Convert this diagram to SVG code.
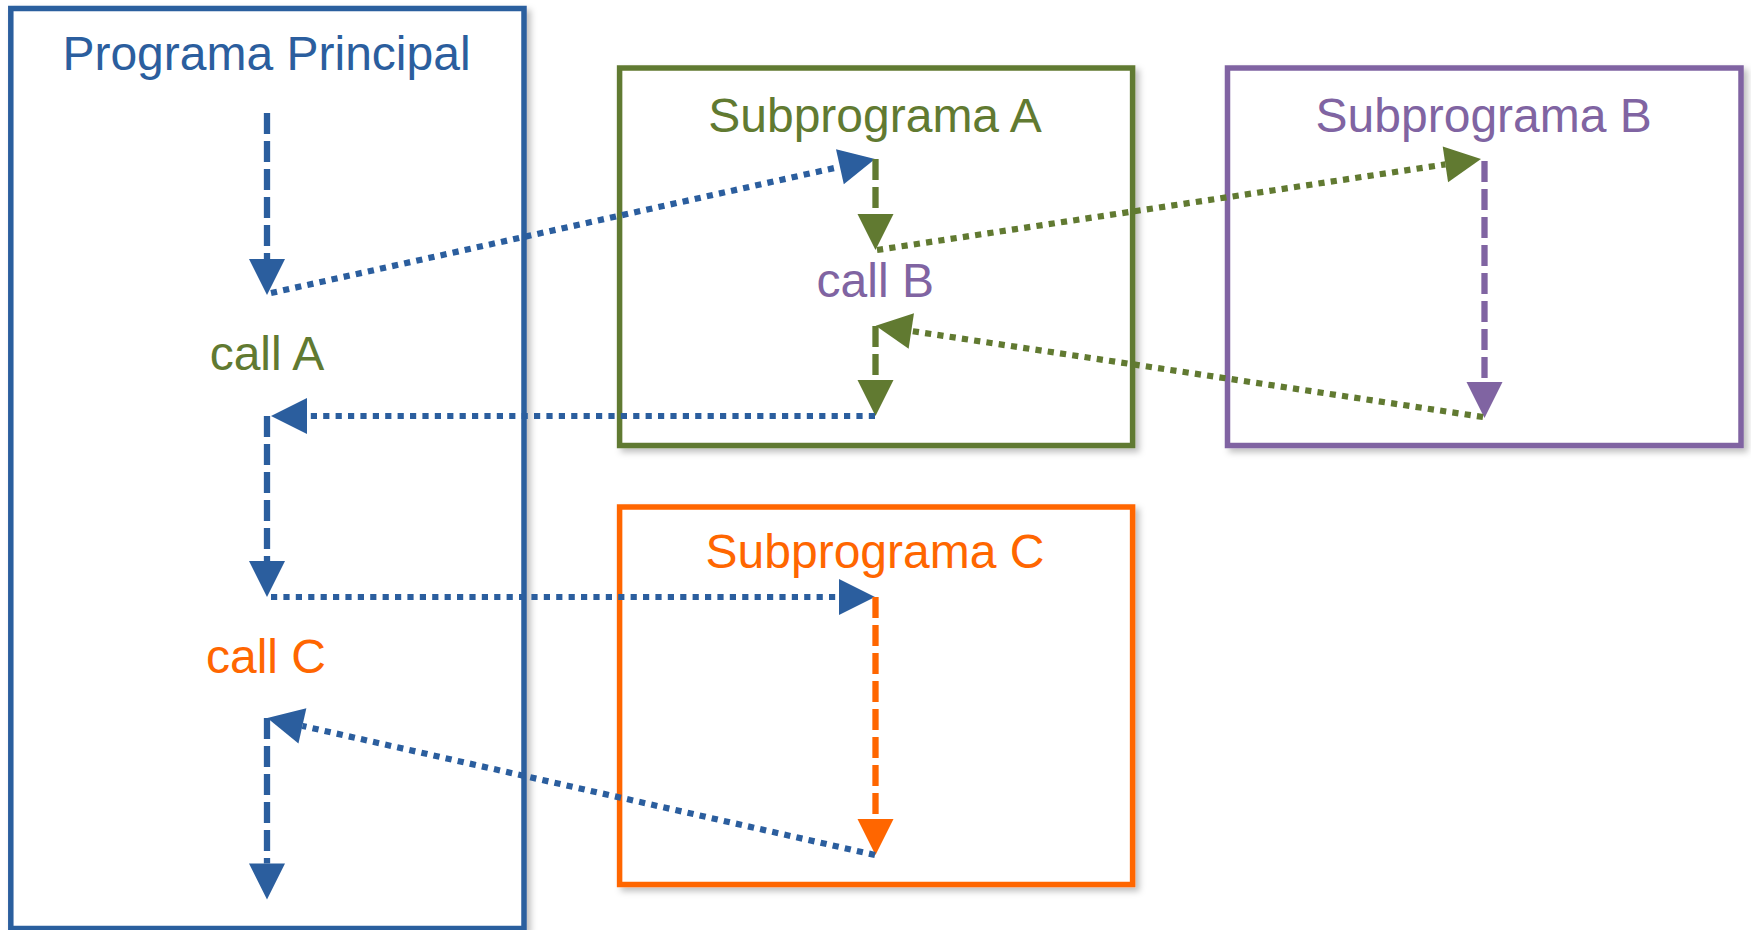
<svg xmlns="http://www.w3.org/2000/svg" width="1751" height="930" viewBox="0 0 1751 930">
<defs>
<style>
.box{fill:#ffffff;stroke-width:5.5;filter:url(#sh)}
.t{font-family:"Liberation Sans",Arial,sans-serif;font-size:48px;text-anchor:middle}
.dash{fill:none;stroke-width:6.3;stroke-dasharray:21 7}
.dot{fill:none;stroke-width:6.2;stroke-dasharray:6.2 6.2}
.blue{stroke:#2B5E9E}
.green{stroke:#617A31}
.purple{stroke:#8064A2}
.orange{stroke:#FF6600}
</style>
<filter id="sh" x="-5%" y="-5%" width="115%" height="115%">
<feDropShadow dx="4" dy="4" stdDeviation="3" flood-color="#000" flood-opacity="0.25"/>
</filter>
<marker id="ab" markerUnits="userSpaceOnUse" viewBox="0 -18 36 36" markerWidth="36" markerHeight="36" refX="0" refY="0" orient="auto" overflow="visible"><path d="M0,-18 L36,0 L0,18 z" fill="#2B5E9E"/></marker>
<marker id="ag" markerUnits="userSpaceOnUse" viewBox="0 -18 36 36" markerWidth="36" markerHeight="36" refX="0" refY="0" orient="auto" overflow="visible"><path d="M0,-18 L36,0 L0,18 z" fill="#617A31"/></marker>
<marker id="ap" markerUnits="userSpaceOnUse" viewBox="0 -18 36 36" markerWidth="36" markerHeight="36" refX="0" refY="0" orient="auto" overflow="visible"><path d="M0,-18 L36,0 L0,18 z" fill="#8064A2"/></marker>
<marker id="ao" markerUnits="userSpaceOnUse" viewBox="0 -18 36 36" markerWidth="36" markerHeight="36" refX="0" refY="0" orient="auto" overflow="visible"><path d="M0,-18 L36,0 L0,18 z" fill="#FF6600"/></marker>
</defs>
<rect width="1751" height="930" fill="#ffffff"/>
<g id="main">
<rect class="box blue" x="10.8" y="8.5" width="513.2" height="920"/>
<text class="t" x="266.5" y="70" fill="#2B5E9E">Programa Principal</text>
<text class="t" x="267" y="370" fill="#617A31">call A</text>
<text class="t" x="266" y="673" fill="#FF6600">call C</text>
</g>
<g id="subA">
<rect class="box green" x="619.6" y="68" width="513" height="377.5"/>
<text class="t" x="875" y="131.5" fill="#617A31">Subprograma A</text>
<text class="t" x="875.3" y="296.7" fill="#8064A2">call B</text>
</g>
<g id="subB">
<rect class="box purple" x="1227.5" y="68" width="513.5" height="377.5"/>
<text class="t" x="1483.7" y="131.5" fill="#8064A2">Subprograma B</text>
</g>
<g id="subC">
<rect class="box orange" x="619.6" y="507" width="513" height="377.5"/>
<text class="t" x="875" y="568.3" fill="#FF6600">Subprograma C</text>
</g>
<g id="connectors">
<line class="dash blue" x1="267" y1="113" x2="267" y2="259" marker-end="url(#ab)"/>
<line class="dot blue" x1="271" y1="293" x2="839.9" y2="166.8" marker-end="url(#ab)"/>
<line class="dash green" x1="875.5" y1="159" x2="875.5" y2="214" marker-end="url(#ag)"/>
<line class="dot green" x1="877" y1="250" x2="1445.4" y2="164.4" marker-end="url(#ag)"/>
<line class="dash purple" x1="1484.5" y1="161" x2="1484.5" y2="382" marker-end="url(#ap)"/>
<line class="dot green" x1="1483" y1="417" x2="911.3" y2="331" marker-end="url(#ag)"/>
<line class="dash green" x1="875.5" y1="326" x2="875.5" y2="380" marker-end="url(#ag)"/>
<line class="dot blue" x1="875" y1="416" x2="307" y2="416" marker-end="url(#ab)"/>
<line class="dash blue" x1="267" y1="416" x2="267" y2="561" marker-end="url(#ab)"/>
<line class="dot blue" x1="271" y1="597" x2="839" y2="597" marker-end="url(#ab)"/>
<line class="dash orange" x1="875.5" y1="597" x2="875.5" y2="819" marker-end="url(#ao)"/>
<line class="dot blue" x1="875" y1="855" x2="302.4" y2="725.9" marker-end="url(#ab)"/>
<line class="dash blue" x1="267" y1="718" x2="267" y2="863.5" marker-end="url(#ab)"/>
</g>
</svg>
